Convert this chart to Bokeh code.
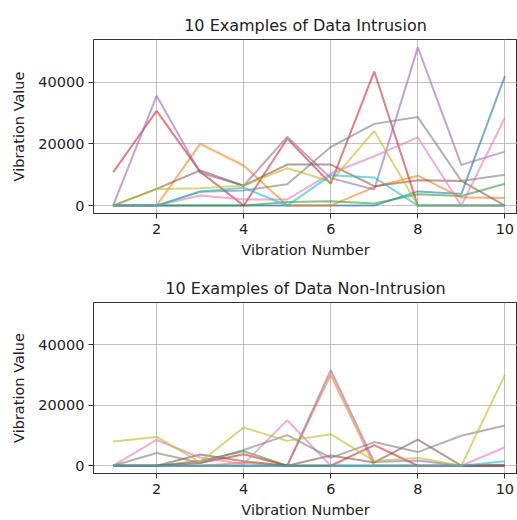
from bokeh.plotting import figure
from bokeh.layouts import column
from bokeh.models import FixedTicker, BasicTickFormatter, Range1d, Title
from bokeh.embed import file_html
from bokeh.resources import INLINE

# x values: vibration numbers
vibration_number = [1, 2, 3, 4, 5, 6, 7, 8, 9, 10]

# 10 examples of intrusion data
intr_0 = [0, 0, 0, 0, 0, 0, 0, 4600, 3800, 42000]
intr_1 = [0, 0, 20000, 13000, 0, 0, 6000, 9700, 2600, 2500]
intr_2 = [0, 0, 0, 0, 1200, 1400, 700, 3650, 3100, 7100]
intr_3 = [10750, 30700, 11000, 0, 21700, 7100, 43500, 0, 0, 0]
intr_4 = [0, 35600, 10600, 6450, 22300, 8900, 5200, 51300, 13200, 17500]
intr_5 = [0, 5400, 11400, 6450, 13300, 13300, 6300, 8200, 8000, 0]
intr_6 = [0, 0, 3300, 2000, 2000, 10400, 16000, 22100, 0, 28400]
intr_7 = [0, 0, 4500, 4900, 6900, 19000, 26500, 28700, 8000, 10000]
intr_8 = [0, 5400, 5600, 6500, 12100, 7800, 24200, 0, 0, 0]
intr_9 = [0, 0, 4600, 5800, 0, 9800, 9100, 0, 0, 0]

# 10 examples of non-intrusion data
non_0 = [0, 0, 0, 0, 0, 0, 0, 0, 0, 300]
non_1 = [0, 0, 0, 1000, 0, 30000, 0, 0, 0, 0]
non_2 = [0, 0, 1600, 4800, 0, 0, 0, 0, 0, 0]
non_3 = [0, 0, 900, 3800, 0, 0, 6800, 0, 0, 0]
non_4 = [0, 0, 0, 0, 0, 31500, 1200, 1700, 0, 0]
non_5 = [0, 0, 3700, 1500, 0, 3400, 1100, 8600, 0, 0]
non_6 = [0, 8500, 2700, 600, 15000, 0, 0, 0, 0, 6100]
non_7 = [0, 4200, 1000, 5200, 10100, 2600, 7800, 4500, 9900, 13300]
non_8 = [8000, 9500, 1200, 12600, 8200, 10400, 1500, 2600, 0, 30000]
non_9 = [0, 0, 0, 0, 0, 0, 0, 0, 0, 1500]

intrusion = [intr_0, intr_1, intr_2, intr_3, intr_4, intr_5, intr_6, intr_7, intr_8, intr_9]
non_intrusion = [non_0, non_1, non_2, non_3, non_4, non_5, non_6, non_7, non_8, non_9]

titles = ["10 Examples of Data Intrusion", "10 Examples of Data Non-Intrusion"]
x_ticks = [2, 4, 6, 8, 10]
y_ticks = [0, 20000, 40000]

colors = ["#1f77b4", "#ff7f0e", "#2ca02c", "#d62728", "#9467bd",
          "#8c564b", "#e377c2", "#7f7f7f", "#bcbd22", "#17becf"]

FONT = "DejaVu Sans"

all_vals = [v for s in intrusion + non_intrusion for v in s]
ymax = max(all_vals)
ymin = min(all_vals)
pad = 0.05 * (ymax - ymin)
y_lo, y_hi = ymin - pad, ymax + pad
x_lo = 1 - 0.05 * 9
x_hi = 10.29


def make_fig(series, title, top_border, bottom_border, height):
    p = figure(width=517, height=height, output_backend="svg", toolbar_location=None,
               x_range=Range1d(x_lo, x_hi), y_range=Range1d(y_lo, y_hi),
               min_border_left=93, min_border_right=0,
               min_border_top=top_border, min_border_bottom=bottom_border)
    p.title = Title(text=title, align="center", text_font=FONT, text_font_size="16px",
                    text_font_style="normal", text_color="#222222", standoff=9)
    p.background_fill_color = "white"
    p.border_fill_color = "white"
    p.outline_line_color = "#333333"
    p.outline_line_width = 1

    for s, c in zip(series, colors):
        p.line(vibration_number, s, line_color=c, line_width=2, line_alpha=0.6)

    p.xaxis.ticker = FixedTicker(ticks=x_ticks)
    p.yaxis.ticker = FixedTicker(ticks=y_ticks)
    p.yaxis.formatter = BasicTickFormatter(use_scientific=False)
    p.xaxis.axis_label = "Vibration Number"
    p.yaxis.axis_label = "Vibration Value"
    for ax in (p.xaxis, p.yaxis):
        ax.axis_label_text_font = FONT
        ax.axis_label_text_font_size = "14.5px"
        ax.axis_label_text_font_style = "normal"
        ax.axis_label_text_color = "#222222"
        ax.major_label_text_font = FONT
        ax.major_label_text_font_size = "14.5px"
        ax.major_label_text_color = "#222222"
        ax.major_tick_in = 0
        ax.major_tick_out = 5
        ax.minor_tick_line_color = None
        ax.major_tick_line_color = "#333333"
        ax.axis_line_color = "#333333"
    p.xaxis.major_label_standoff = 5
    p.xaxis.axis_label_standoff = 5
    p.yaxis.major_label_standoff = 4
    p.yaxis.axis_label_standoff = 8
    p.grid.grid_line_color = "#b0b0b0"
    p.grid.grid_line_alpha = 0.8
    p.grid.grid_line_width = 1
    return p


p1 = make_fig(intrusion, titles[0], 39, 46, 260)
p2 = make_fig(non_intrusion, titles[1], 42, 43, 260)

layout = column(p1, p2, spacing=0)
open("out.html", "w").write(file_html(layout, INLINE))
